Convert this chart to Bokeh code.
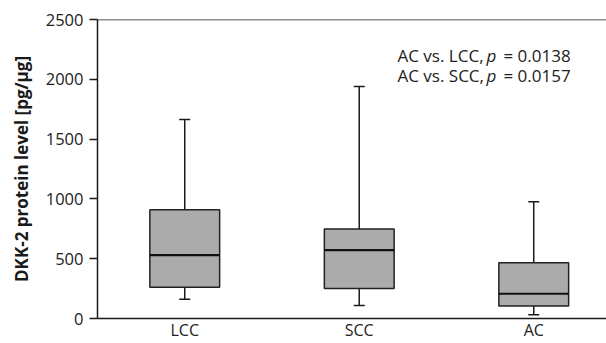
from bokeh.plotting import figure
from bokeh.models import Span, FixedTicker, Range1d, Label
from bokeh.embed import file_html
from bokeh.resources import INLINE

# Data
categories = ["LCC", "SCC", "AC"]
whisker_low = [160, 108, 31]
q1 = [262, 251, 105]
median = [530, 571, 207]
q3 = [910, 748, 466]
whisker_high = [1664, 1940, 977]
y_ticks = [0, 500, 1000, 1500, 2000, 2500]
annotations = ["AC vs. LCC,", "AC vs. SCC,"]
p_values = ["= 0.0138", "= 0.0157"]

xs = [i + 1 for i in range(len(categories))]
box_w = 0.40
cap_w = 0.063

FONT = "Open Sans"
DARK = "#1a1a1a"
TXT = "#222222"

p = figure(width=606, height=343, output_backend="svg", toolbar_location=None,
           x_range=Range1d(0.5, 3.417), y_range=Range1d(0, 2500),
           min_border_left=97, min_border_right=0, min_border_top=19,
           min_border_bottom=22)
p.outline_line_color = None
p.grid.visible = False
p.background_fill_color = "white"
p.border_fill_color = "white"

# whiskers
p.segment(x0=xs, y0=q3, x1=xs, y1=whisker_high, line_color=DARK, line_width=1.5)
p.segment(x0=xs, y0=q1, x1=xs, y1=whisker_low, line_color=DARK, line_width=1.5)
# caps
p.segment(x0=[x - cap_w / 2 for x in xs], y0=whisker_high,
          x1=[x + cap_w / 2 for x in xs], y1=whisker_high, line_color=DARK, line_width=1.5)
p.segment(x0=[x - cap_w / 2 for x in xs], y0=whisker_low,
          x1=[x + cap_w / 2 for x in xs], y1=whisker_low, line_color=DARK, line_width=1.5)
# boxes
p.vbar(x=xs, bottom=q1, top=q3, width=box_w, fill_color="#ababab",
       line_color="#222222", line_width=1.5)
# medians
p.segment(x0=[x - box_w / 2 for x in xs], y0=median,
          x1=[x + box_w / 2 for x in xs], y1=median, line_color="#111111", line_width=2.2)

# top line
p.add_layout(Span(location=2500, dimension="width", line_color=DARK, line_width=1.5))

# axes
p.yaxis.ticker = FixedTicker(ticks=y_ticks)
p.yaxis.minor_tick_line_color = None
p.yaxis.major_tick_out = 8
p.yaxis.major_tick_in = 0
p.yaxis.major_label_standoff = 6
p.yaxis.axis_label = "DKK-2 protein level [pg/μg]"
p.yaxis.axis_label_text_font = FONT
p.yaxis.axis_label_text_font_style = "bold"
p.yaxis.axis_label_text_font_size = "17px"
p.yaxis.axis_label_text_color = DARK
p.yaxis.axis_label_standoff = 10

p.xaxis.ticker = FixedTicker(ticks=xs)
p.xaxis.major_label_overrides = {x: c for x, c in zip(xs, categories)}
p.xaxis.minor_tick_line_color = None
p.xaxis.major_tick_out = 0
p.xaxis.major_tick_in = 0
p.xaxis.major_label_standoff = 0

for ax in (p.xaxis, p.yaxis):
    ax.axis_line_color = DARK
    ax.axis_line_width = 1.5
    ax.major_tick_line_width = 1.5
    ax.major_label_text_font = FONT
    ax.major_label_text_color = TXT
p.xaxis.major_tick_line_color = None
p.yaxis.major_tick_line_color = DARK
p.yaxis.major_label_text_font_size = "16.5px"
p.xaxis.major_label_text_font_size = "16px"

# annotation text
ann_y = [2199, 2034]
for txt, pv, yy in zip(annotations, p_values, ann_y):
    p.add_layout(Label(x=2.2192, y=yy, text=txt, text_font=FONT, text_font_size="17px",
                       text_color=TXT, text_baseline="alphabetic"))
    p.add_layout(Label(x=2.7292, y=yy, text="p", text_font=FONT, text_font_size="17px",
                       text_font_style="italic", text_color=TXT, text_baseline="alphabetic"))
    p.add_layout(Label(x=2.8266, y=yy, text=pv, text_font=FONT, text_font_size="17px",
                       text_color=TXT, text_baseline="alphabetic"))

open("out.html", "w").write(file_html(p, INLINE))
